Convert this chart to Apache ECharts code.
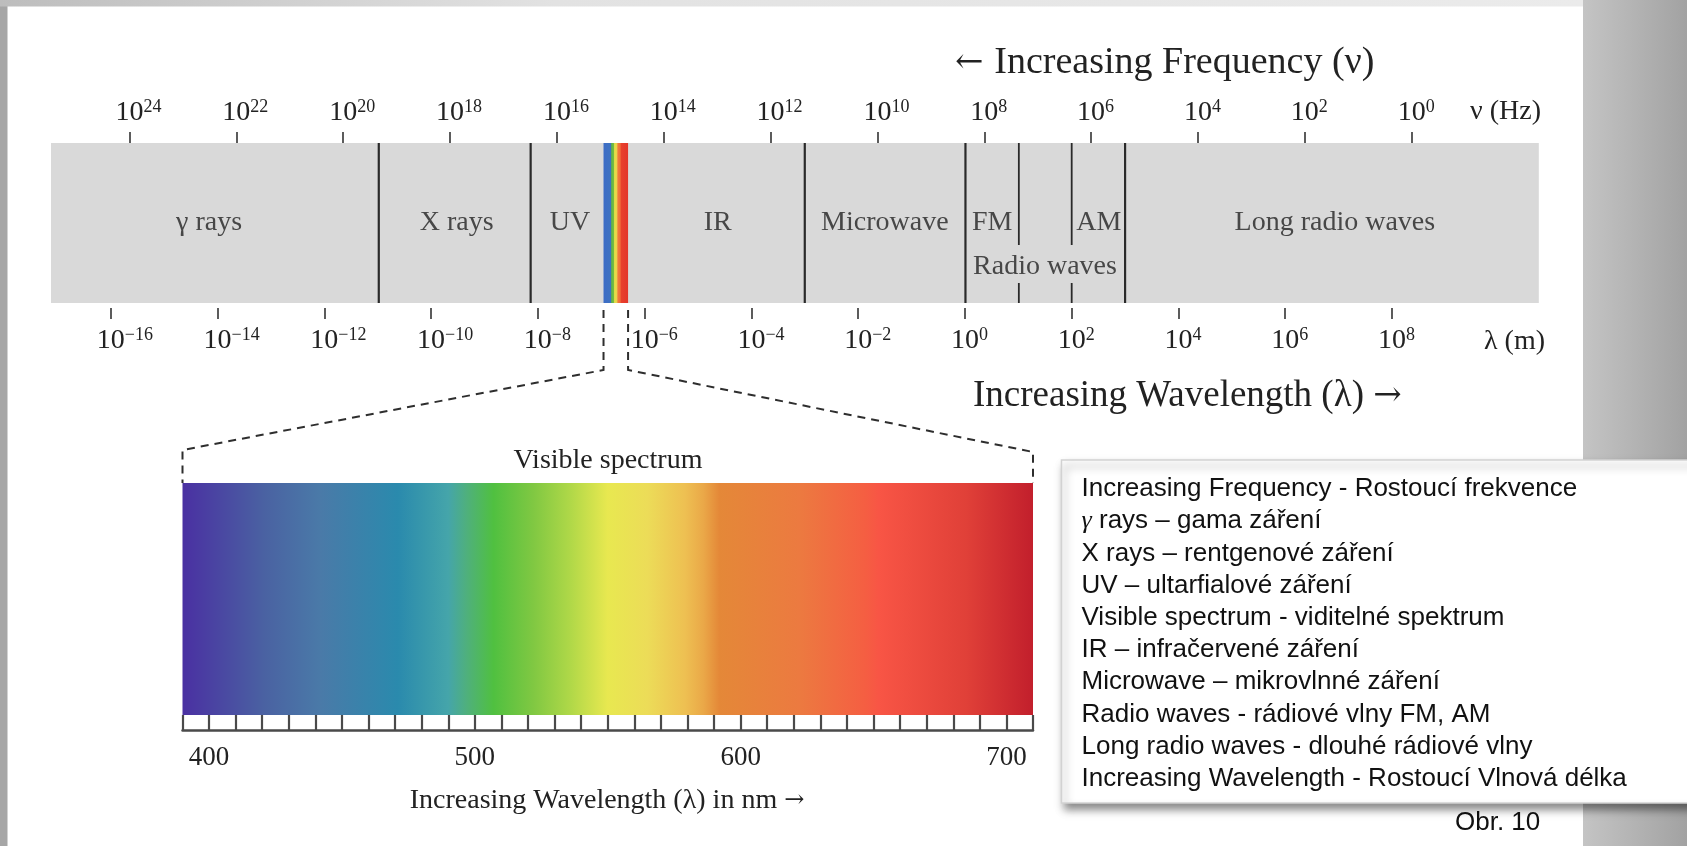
<!DOCTYPE html>
<html>
<head>
<meta charset="utf-8">
<script src="https://cdn.jsdelivr.net/npm/echarts@6/dist/echarts.min.js"></script>
<style>html,body{margin:0;padding:0;background:#fff;overflow:hidden}#c{width:1687px;height:846px}</style>
</head>
<body>
<div id="c"></div>
<script>
// ---------------- data ----------------
const freqTicks = [24, 22, 20, 18, 16, 14, 12, 10, 8, 6, 4, 2, 0];          // log10 ν (Hz)
const waveTicks = [-16, -14, -12, -10, -8, -6, -4, -2, 0, 2, 4, 6, 8];      // log10 λ (m)
const waveRange = [-17.12, 10.75];      // λ decades spanned by the band
const freqRange = [-2.38, 25.47];       // ν decades spanned by the band
const fullBoundaries = [-10.98, -8.135, -3.0, 0.01, 3.0];
const radioSubBoundaries = [1.01, 2.0];
const visibleBand = [-6.77, -6.31];
const regionNames = ['γ rays', 'X rays', 'UV', 'IR', 'Microwave', 'FM', 'AM', 'Long radio waves', 'Radio waves'];
const regionCenters = [-14.16, -9.52, -7.40, -4.63, -1.50, 0.51, 2.51, 6.93, 1.50];
const regionLevels = [0.5, 0.5, 0.5, 0.5, 0.5, 0.5, 0.5, 0.5, 0.225];
const stripOffsets = [0, 0.3, 0.33, 0.42, 0.45, 0.55, 0.58, 0.68, 0.72, 1];
const stripColors = ['#3c6cc6', '#3f72c0', '#62b443', '#78bc42', '#e4df48', '#e8d24a', '#f07c3e', '#ef6a38', '#e8402c', '#e3352a'];
const nmRange = [390, 710];
const nmTickLabels = [400, 500, 600, 700];
const specNm = [390, 421, 442, 471, 490, 497, 507, 522, 536, 550, 565, 579, 586, 592, 622, 647, 652, 685, 710];
const specColors = ['#4a30a2', '#4a62a2', '#4a7aa8', '#2a8aad', '#45a5aa', '#4fb07c', '#50c040', '#80c842', '#b0d848', '#e8e850', '#ecdc58', '#eec052', '#eaa848', '#e48838', '#ec7a40', '#f55e42', '#f85545', '#e04038', '#c21f2c'];
const legendLines = [
  'Increasing Frequency - Rostoucí frekvence',
  '{g|γ} rays – gama záření',
  'X rays – rentgenové záření',
  'UV – ultarfialové záření',
  'Visible spectrum - viditelné spektrum',
  'IR – infračervené záření',
  'Microwave – mikrovlnné záření',
  'Radio waves - rádiové vlny FM, AM',
  'Long radio waves - dlouhé rádiové vlny',
  'Increasing Wavelength - Rostoucí Vlnová délka'
];

// ---------------- helpers ----------------
const SERIF = '"Liberation Serif", "Times New Roman", serif';
const SANS = '"Liberation Sans", Arial, sans-serif';
const ARROW = '"DejaVu Serif", "DejaVu Sans", serif';
const TXT = '#222222';
const supRich = {
  b: { fontFamily: SERIF, fontSize: 28, lineHeight: 30, color: TXT },
  s: { fontFamily: SERIF, fontSize: 18, lineHeight: 9, verticalAlign: 'top', color: TXT },
  g: { fontFamily: SERIF, fontSize: 18, lineHeight: 9, verticalAlign: 'top', color: 'rgba(0,0,0,0)' }
};
function powLabel(v) {
  const e = (v < 0 ? '−' : '') + Math.abs(v);
  return '{g|' + e + '}{b|10}{s|' + e + '}';
}
function rectItem(fillFn) {
  return function (params, api) {
    const p0 = api.coord([api.value(0), 1]);
    const p1 = api.coord([api.value(1), 0]);
    return { type: 'rect', shape: { x: p0[0], y: p0[1], width: p1[0] - p0[0], height: p1[1] - p0[1] }, style: { fill: fillFn() } };
  };
}
function gradient(offsets, colors) {
  return { type: 'linear', x: 0, y: 0, x2: 1, y2: 0, colorStops: offsets.map((o, i) => ({ offset: o, color: colors[i] })) };
}
function titleRich(size, arrowSize) {
  return {
    t: { fontFamily: SERIF, fontSize: size, lineHeight: size + 4, fill: TXT },
    a: { fontFamily: ARROW, fontSize: arrowSize, lineHeight: size + 4, fill: TXT }
  };
}

const boundarySegments = [];
fullBoundaries.forEach(b => boundarySegments.push([b, 1, 0, 2.2]));
radioSubBoundaries.forEach(b => { boundarySegments.push([b, 1, 0.3625, 1.8]); boundarySegments.push([b, 0.125, 0, 1.8]); });

const chart = echarts.init(document.getElementById('c'), null, { renderer: 'canvas' });

const option = {
  backgroundColor: '#ffffff',
  animation: false,
  grid: [
    { left: 51, top: 143, width: 1487.8, height: 160 },
    { left: 182.5, top: 483, width: 850.5, height: 232 }
  ],
  xAxis: [
    {
      gridIndex: 0, type: 'value', min: waveRange[0], max: waveRange[1], position: 'bottom', offset: 5,
      axisLine: { show: false, onZero: false }, splitLine: { show: false },
      axisTick: { customValues: waveTicks, length: 11, lineStyle: { color: '#333', width: 1.6 } },
      axisLabel: { customValues: waveTicks, formatter: powLabel, rich: supRich, margin: 18 }
    },
    {
      gridIndex: 0, type: 'value', inverse: true, min: freqRange[0], max: freqRange[1], position: 'top',
      axisLine: { show: false, onZero: false }, splitLine: { show: false },
      axisTick: { customValues: freqTicks, length: 11, lineStyle: { color: '#333', width: 1.6 } },
      axisLabel: { customValues: freqTicks, formatter: powLabel, rich: supRich, margin: 15 }
    },
    {
      gridIndex: 1, type: 'value', min: nmRange[0], max: nmRange[1], interval: 10, position: 'bottom', offset: 15,
      axisLine: { show: true, onZero: false, lineStyle: { color: '#4a4a4a', width: 2.5 } }, splitLine: { show: false },
      axisTick: { inside: true, length: 15, lineStyle: { color: '#4a4a4a', width: 2.2 } },
      axisLabel: { customValues: nmTickLabels, fontFamily: SERIF, fontSize: 27, color: TXT, margin: 14 }
    }
  ],
  yAxis: [
    { gridIndex: 0, type: 'value', min: 0, max: 1, show: false },
    { gridIndex: 1, type: 'value', min: 0, max: 1, show: false }
  ],
  series: [
    {
      type: 'custom', xAxisIndex: 0, yAxisIndex: 0, z: 1, silent: true,
      renderItem: rectItem(() => '#d9d9d9'), data: [[waveRange[0], waveRange[1]]]
    },
    {
      type: 'custom', xAxisIndex: 0, yAxisIndex: 0, z: 3, silent: true,
      renderItem: rectItem(() => gradient(stripOffsets, stripColors)), data: [visibleBand]
    },
    {
      type: 'custom', xAxisIndex: 0, yAxisIndex: 0, z: 2, silent: true,
      renderItem: function (params, api) {
        const a = api.coord([api.value(0), api.value(1)]);
        const b = api.coord([api.value(0), api.value(2)]);
        return { type: 'line', shape: { x1: a[0], y1: a[1], x2: b[0], y2: b[1] }, style: { stroke: '#2a2a2a', lineWidth: api.value(3) } };
      },
      data: boundarySegments
    },
    {
      type: 'scatter', xAxisIndex: 0, yAxisIndex: 0, z: 4, silent: true, symbolSize: 0,
      label: { show: true, position: 'inside', formatter: '{b}', fontFamily: SERIF, fontSize: 28, color: TXT },
      data: regionCenters.map((c, i) => ({ value: [c, regionLevels[i]], name: regionNames[i] }))
    },
    {
      type: 'custom', xAxisIndex: 2, yAxisIndex: 1, z: 1, silent: true,
      renderItem: rectItem(() => gradient(specNm.map(n => (n - nmRange[0]) / (nmRange[1] - nmRange[0])), specColors)),
      data: [nmRange]
    }
  ]
};
chart.setOption(option);

// ---------------- annotations (positions derived from the axes) ----------------
const pa = chart.convertToPixel({ xAxisIndex: 0, yAxisIndex: 0 }, [visibleBand[0], 0]);
const pb = chart.convertToPixel({ xAxisIndex: 0, yAxisIndex: 0 }, [visibleBand[1], 0]);
const qa = chart.convertToPixel({ xAxisIndex: 2, yAxisIndex: 1 }, [nmRange[0], 1]);
const qb = chart.convertToPixel({ xAxisIndex: 2, yAxisIndex: 1 }, [nmRange[1], 1]);
const dashStyle = { stroke: '#2e2e2e', lineWidth: 2, lineDash: [8, 6], fill: null };

const graphics = [
  // slide frame
  { type: 'rect', z: -10, shape: { x: 0, y: 0, width: 7.5, height: 846 }, style: { fill: '#a6a6a6' } },
  { type: 'rect', z: -10, shape: { x: 0, y: 0, width: 1583, height: 6.5 },
    style: { fill: { type: 'linear', x: 0, y: 0, x2: 1, y2: 0, colorStops: [{ offset: 0, color: '#bdbdbd' }, { offset: 0.35, color: '#e2e2e2' }, { offset: 1, color: '#ebebeb' }] } } },
  { type: 'rect', z: -10, shape: { x: 1583, y: 0, width: 104, height: 846 },
    style: { fill: { type: 'linear', x: 0, y: 0, x2: 1, y2: 0, colorStops: [{ offset: 0, color: '#c4c4c4' }, { offset: 1, color: '#a2a2a2' }] } } },
  // dashed connectors
  { type: 'polyline', z: 5, shape: { points: [[pa[0], pa[1] + 7], [pa[0], 370], [qa[0], 450], [qa[0], qa[1]]] }, style: dashStyle },
  { type: 'polyline', z: 5, shape: { points: [[pb[0], pb[1] + 7], [pb[0], 370], [qb[0], 452], [qb[0], qb[1]]] }, style: dashStyle },
  // titles
  { type: 'text', z: 5, style: { text: '{a|← }{t|Increasing Frequency (ν)}', x: 955, y: 63, verticalAlign: 'middle', rich: titleRich(38, 34) } },
  { type: 'text', z: 5, style: { text: 'ν (Hz)', x: 1470, y: 112, verticalAlign: 'middle', fontFamily: SERIF, fontSize: 28, fill: TXT } },
  { type: 'text', z: 5, style: { text: 'λ (m)', x: 1484, y: 342, verticalAlign: 'middle', fontFamily: SERIF, fontSize: 28, fill: TXT } },
  { type: 'text', z: 5, style: { text: '{t|Increasing Wavelength (λ) }{a|→}', x: 973, y: 396, verticalAlign: 'middle', rich: titleRich(37, 34) } },
  { type: 'text', z: 5, style: { text: 'Visible spectrum', x: 608, y: 461, align: 'center', verticalAlign: 'middle', fontFamily: SERIF, fontSize: 28, fill: TXT } },
  { type: 'text', z: 5, style: { text: '{t|Increasing Wavelength (λ) in nm }{a|→}', x: 607, y: 801, align: 'center', verticalAlign: 'middle', rich: titleRich(28, 24) } },
  // legend box
  { type: 'rect', z: 6, shape: { x: 1061.5, y: 460, width: 640, height: 343 },
    style: { fill: '#ffffff', stroke: '#d2d2d2', lineWidth: 1.5, shadowBlur: 8, shadowOffsetX: 3, shadowOffsetY: 6, shadowColor: 'rgba(0,0,0,0.45)' } },
  { type: 'text', z: 7, style: {
      text: legendLines.join('\n'), x: 1081.5, y: 473, fontFamily: SANS, fontSize: 26, lineHeight: 32.2, fill: '#111',
      rich: { g: { fontFamily: SERIF, fontStyle: 'italic', fontSize: 26, lineHeight: 32.2, fill: '#111' } } } },
  { type: 'text', z: 5, style: { text: 'Obr. 10', x: 1455, y: 823, verticalAlign: 'middle', fontFamily: SANS, fontSize: 26, fill: '#111' } }
];
chart.setOption({ graphic: graphics });
</script>
</body>
</html>
